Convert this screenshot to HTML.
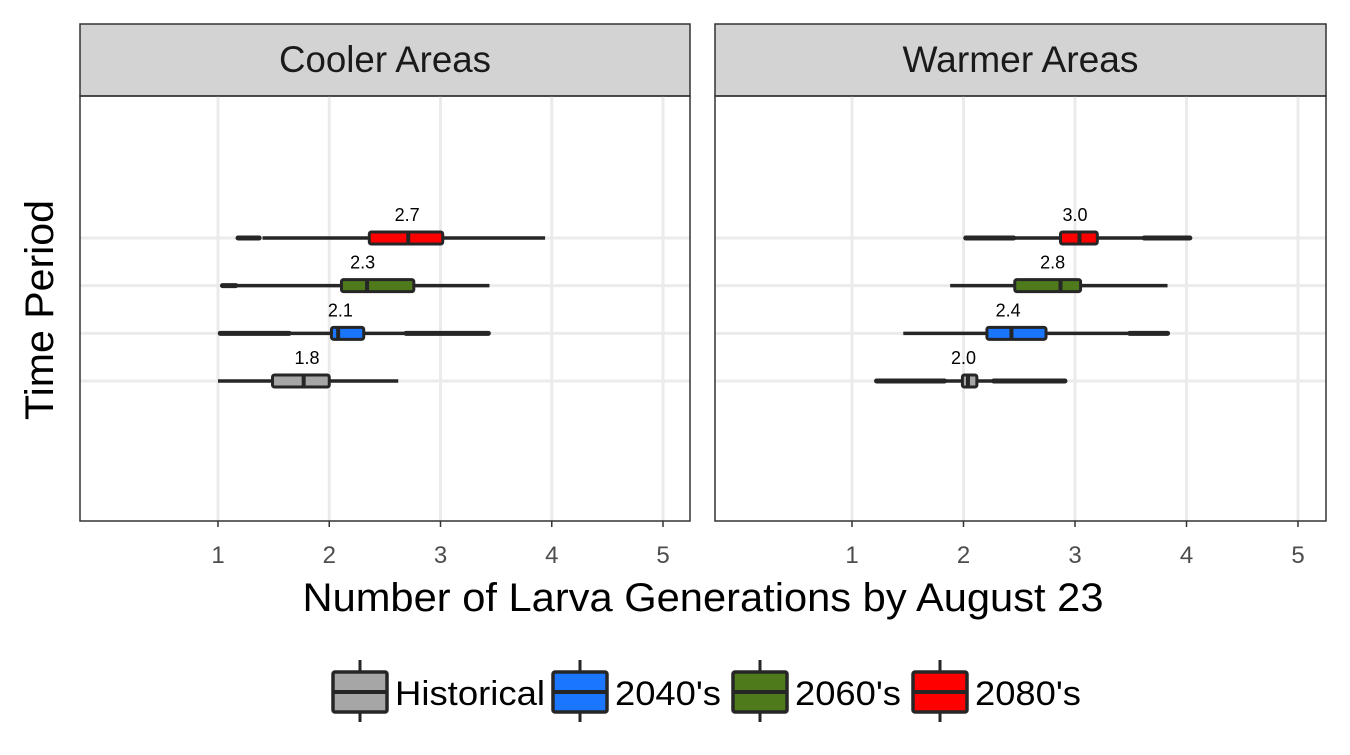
<!DOCTYPE html>
<html><head><meta charset="utf-8"><style>
body{margin:0;background:#fff;}
svg text{font-family:"Liberation Sans",sans-serif;}
</style></head><body>
<svg id="chart" width="1350" height="750" xmlns="http://www.w3.org/2000/svg"></svg>
<script>
const periods = ["Historical","2040's","2060's","2080's"];
const colors = ["#a6a6a6","#1a75ff","#4f7a1c","#ff0000"];
const panels = ["Cooler Areas","Warmer Areas"];
const xTicks = [1,2,3,4,5];
// per panel, per period: [whiskerLo, q1, median, q3, whiskerHi]
const coolerStats = [[1.0,1.49,1.77,2.0,2.62],[1.64,2.02,2.08,2.31,2.69],[1.17,2.11,2.34,2.76,3.44],[1.4,2.36,2.71,3.02,3.94]];
const warmerStats = [[1.83,1.99,2.04,2.12,2.27],[1.46,2.21,2.43,2.74,3.49],[1.88,2.46,2.87,3.05,3.83],[2.45,2.87,3.04,3.2,3.62]];
// outlier ranges [lo, hi] (dense runs)
const coolerOutliers = [[],[[1.02,1.64],[2.69,3.43]],[[1.04,1.16]],[[1.18,1.37]]];
const warmerOutliers = [[[1.22,1.83],[2.27,2.91]],[[3.49,3.83]],[],[[2.02,2.45],[3.62,4.03]]];
const coolerLabels = ["1.8","2.1","2.3","2.7"];
const warmerLabels = ["2.0","2.4","2.8","3.0"];

const svg = document.getElementById('chart');
const NS = "http://www.w3.org/2000/svg";
function mk(tag, attrs, parent){const e=document.createElementNS(NS,tag);for(const k in attrs)e.setAttribute(k,attrs[k]);(parent||svg).appendChild(e);return e;}

const panelGeo = [{x0:80,x1:690,px1:218,px5:663},{x0:715,x1:1326,px1:852,px5:1298}];
const plotTop=96, plotBottom=521;
function yScale(i){return 381 - i*47.67;}
const allStats=[coolerStats,warmerStats], allOut=[coolerOutliers,warmerOutliers], allLab=[coolerLabels,warmerLabels];
const stripWidths=[212,236];

panelGeo.forEach((g,p)=>{
  const xs = v => g.px1 + (v-1)*(g.px5-g.px1)/4;
  const grp = mk('g',{});
  
  
  const strip = mk('rect',{x:g.x0,y:24,width:g.x1-g.x0,height:72,fill:'#d3d3d3',stroke:'#333','stroke-width':1.5},grp);
  
  
  const st = mk('text',{x:(g.x0+g.x1)/2,y:72,'text-anchor':'middle','font-size':37,fill:'#1a1a1a',textLength:stripWidths[p],lengthAdjust:'spacingAndGlyphs'},grp);
  st.textContent = panels[p];
  
  
  periods.forEach((_,i)=>{mk('line',{x1:g.x0,x2:g.x1,y1:yScale(i),y2:yScale(i),stroke:'#ebebeb','stroke-width':3},grp);});
  xTicks.forEach(t=>{
    mk('line',{x1:xs(t),x2:xs(t),y1:plotTop,y2:plotBottom,stroke:'#ebebeb','stroke-width':3},grp);
    mk('line',{x1:xs(t),x2:xs(t),y1:plotBottom,y2:plotBottom+6,stroke:'#333','stroke-width':1.5},grp);
    const tl = mk('text',{x:xs(t),y:plotBottom+42,'text-anchor':'middle','font-size':24,fill:'#4d4d4d'},grp);
    tl.textContent=t;
    
    
  });
  const frame = mk('rect',{x:g.x0,y:plotTop,width:g.x1-g.x0,height:plotBottom-plotTop,fill:'none',stroke:'#333','stroke-width':1.5},grp);
  
  
  allStats[p].forEach((s,i)=>{
    const y=yScale(i);
    const bg = mk('g',{},grp);
    
    
    mk('line',{x1:xs(s[0]),x2:xs(s[4]),y1:y,y2:y,stroke:'#262626','stroke-width':3.5},bg);
    allOut[p][i].forEach(r=>{
      mk('line',{x1:xs(r[0]),x2:xs(r[1]),y1:y,y2:y,stroke:'#262626','stroke-width':5,'stroke-linecap':'round'},bg);
    });
    mk('rect',{x:xs(s[1]),y:y-6,width:xs(s[3])-xs(s[1]),height:12,rx:2,fill:colors[i],stroke:'#262626','stroke-width':3},bg);
    mk('line',{x1:xs(s[2]),x2:xs(s[2]),y1:y-6,y2:y+6,stroke:'#262626','stroke-width':4},bg);
    const lb = mk('text',{x:xs(parseFloat(allLab[p][i])),y:y-17,'text-anchor':'middle','font-size':18,fill:'#000'},bg);
    lb.textContent=allLab[p][i];
    
    
  });
});
const yt = mk('text',{x:0,y:0,'text-anchor':'middle','font-size':40,fill:'#000',textLength:220,lengthAdjust:'spacingAndGlyphs',transform:'translate(53,310) rotate(-90)'});
yt.textContent='Time Period';


const xt = mk('text',{x:703,y:611,'text-anchor':'middle','font-size':40,fill:'#000',textLength:801,lengthAdjust:'spacingAndGlyphs'});
xt.textContent='Number of Larva Generations by August 23';


const legX=[333,553,733,913];
const legW=[150,106,106,106];
periods.forEach((nm,i)=>{
  const lg = mk('g',{});
  
  
  const x=legX[i];
  mk('line',{x1:x+27,x2:x+27,y1:660,y2:722,stroke:'#262626','stroke-width':3},lg);
  mk('rect',{x:x,y:672,width:54,height:40,rx:2,fill:colors[i],stroke:'#262626','stroke-width':3.5},lg);
  mk('line',{x1:x,x2:x+54,y1:692,y2:692,stroke:'#262626','stroke-width':4},lg);
  const t = mk('text',{x:x+62,y:705,'font-size':34,fill:'#000',textLength:legW[i],lengthAdjust:'spacingAndGlyphs'},lg);
  t.textContent=nm;
});
</script>
</body></html>
